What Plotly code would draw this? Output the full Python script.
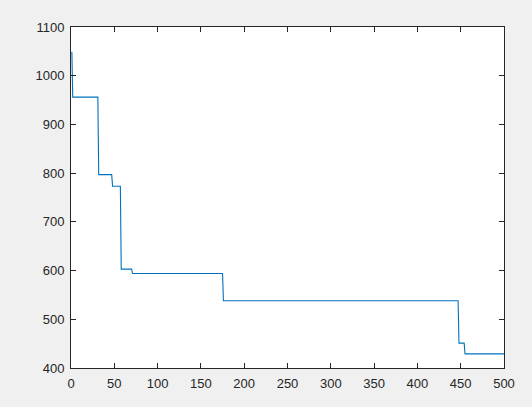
import plotly.graph_objects as go

# Best value per iteration (change points of a step curve)
iterations = [1, 2, 31, 32, 47, 48, 57, 58, 70, 71, 175, 176, 447, 448, 454, 455, 500]
best_values = [1049, 956, 956, 797, 797, 773, 773, 603, 603, 594, 594, 538, 538, 451, 451, 429, 429]

x_ticks = [0, 50, 100, 150, 200, 250, 300, 350, 400, 450, 500]
y_ticks = [400, 500, 600, 700, 800, 900, 1000, 1100]

fig = go.Figure()
fig.add_trace(go.Scatter(
    x=iterations, y=best_values, mode="lines",
    line=dict(color="#0072BD", width=1.1),
    showlegend=False, hoverinfo="x+y",
))

axis_common = dict(
    showgrid=False, zeroline=False, showline=True, linecolor="#262626", linewidth=1,
    mirror="allticks", ticks="inside", ticklen=5, tickcolor="#262626",
    tickfont=dict(family="Liberation Sans, Arial, sans-serif", size=13, color="#262626"),
)

fig.update_layout(
    width=532, height=407,
    margin=dict(l=71, r=28, t=27, b=39),
    paper_bgcolor="#F0F0F0", plot_bgcolor="#FFFFFF",
    xaxis=dict(range=[0, 500], tickvals=x_ticks, ticklabelstandoff=3, **axis_common),
    yaxis=dict(range=[400, 1100], tickvals=y_ticks, ticklabelstandoff=3, **axis_common),
)

fig.write_html(
    "out.html",
    config={"displayModeBar": False},
    post_script="document.body.style.margin='0';document.body.style.background='#F0F0F0';",
)
